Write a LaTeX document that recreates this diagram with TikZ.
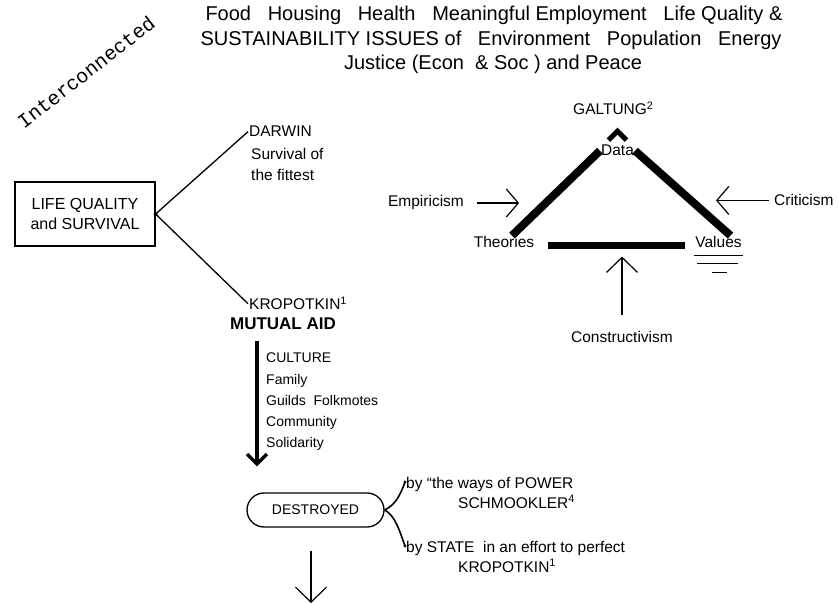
\documentclass[tikz,border=0pt]{standalone}
\usepackage{fontspec}
\setmainfont{Liberation Sans}
\newfontfamily\typewriter{Liberation Mono}
\usetikzlibrary{arrows.meta,positioning}

\begin{document}
\begin{tikzpicture}[x=1pt,y=-1pt,
        txt/.style={inner sep=1pt, font=\fontsize{15.5}{19}\selectfont},
        smalltxt/.style={inner sep=1pt, font=\fontsize{14}{21.25}\selectfont},
        headline/.style={inner sep=0pt, font=\fontsize{20}{24}\selectfont},
        link/.style={line width=1.3pt},
        leg/.style={line width=8pt},
        barb/.style={line width=1.2pt, -{Straight Barb[length=12pt,width=28pt]}},
        bigbarb/.style={line width=1.2pt, -{Straight Barb[length=15pt,width=31pt]}},
        thickarrow/.style={line width=3.3pt, -{Straight Barb[length=10pt,width=20pt]}}]
        \useasboundingbox (0,0) rectangle (839,604);

        % Issues heading
        \node[headline, anchor=base] (issues1) at (494,21) {Food\ \ \ Housing\ \ \ Health\ \ \ Meaningful Employment\ \ \ Life Quality \&};
        \node[headline, anchor=base] (issues2) at (491,46) {SUSTAINABILITY ISSUES of\ \ \ Environment\ \ \ Population\ \ \ Energy};
        \node[headline, anchor=base] (issues3) at (493,70) {Justice (Econ\ \ \& Soc\ ) and Peace};
        \node[rotate=38, font=\typewriter\fontsize{20}{20}\selectfont] (inter) at (86,72) {Interconnected};

        % Darwin or Kropotkin
        \node[draw, line width=1.2pt, minimum width=140, minimum height=64, align=center,
              font=\fontsize{16}{20}\selectfont] (life) at (85,214) {LIFE QUALITY\\and SURVIVAL};
        \node[txt, anchor=base west] (darwin) at (248,137) {DARWIN};
        \node[txt, anchor=base west] (survival) at (250,160) {Survival of};
        \node[txt, anchor=base west] (fittest) at (250,181) {the fittest};
        \node[txt, anchor=base west] (kropotkin) at (248,310) {KROPOTKIN\textsuperscript{1}};
        \node[anchor=base, font=\bfseries\fontsize{17}{20}\selectfont] (mutual) at (283,330) {MUTUAL AID};
        \fill (life.east) circle (2);
        \draw[link] (life.east) -- (darwin.west);
        \draw[link] (life.east) -- (kropotkin.west);

        \node[smalltxt, anchor=north west, align=left] (culture) at (265,352) {CULTURE\\Family\\Guilds\ \ Folkmotes\\Community\\Solidarity};
        \node[draw, link, rounded corners=17, minimum width=137, minimum height=34,
              font=\fontsize{14}{16}\selectfont] (destroyed) at (315.5,510) {DESTROYED};
        \coordinate (cultTop) at (257,338);
        \draw[thickarrow, shorten <=7] (mutual.south -| cultTop) -- (cultTop |- destroyed.north)
            [shorten >=26];

        % ways of destruction
        \node[txt, anchor=base west] (power) at (405,488) {by “the ways of POWER};
        \node[txt, anchor=base west] (schmookler) at (457,508) {SCHMOOKLER\textsuperscript{4}};
        \node[txt, anchor=base west] (state) at (405,552) {by STATE\ \ in an effort to perfect};
        \node[txt, anchor=base west] (kropotkin2) at (457,572) {KROPOTKIN\textsuperscript{1}};
        \draw[line width=1.6pt] (destroyed.east) .. controls (395,505) and (400,496) .. ([yshift=2]power.west);
        \draw[line width=1.6pt] (destroyed.east) .. controls (395,515) and (400,532) .. ([yshift=2]state.west);
        \fill ([yshift=2]power.west) circle (1.6);
        \fill ([yshift=2]state.west) circle (1.6);
        \coordinate (exit) at (311,603);
        \draw[bigbarb, shorten <=23] ([xshift=-4.5]destroyed.south) -- (exit);

        % Galtung triangle
        \node[txt, anchor=base west] (galtung) at (572,115) {GALTUNG\textsuperscript{2}};
        \node[txt, anchor=base] (data) at (617.5,156) {Data};
        \node[txt, anchor=base] (theories) at (504,248) {Theories};
        \node[txt, anchor=base] (values) at (718.5,248) {Values};
        \draw[line width=5pt] ([xshift=-9,yshift=4]data.north) -- ([yshift=13]data.north)
            -- ([xshift=9,yshift=4]data.north);
        \draw[leg] ([xshift=8]theories.north) -- (data.west);
        \draw[leg] (data.east) -- ([xshift=12]values.north);
        \draw[line width=7pt] ([xshift=13,yshift=-3]theories.east) -- ([xshift=-9,yshift=-3]values.west);
        \draw[line width=1.6pt] ([yshift=-6]values.south west) -- ([yshift=-6]values.south east);
        \draw[line width=1.6pt] ([xshift=3,yshift=-14]values.south west) -- ([xshift=-5,yshift=-14]values.south east);
        \draw[line width=1.6pt] ([xshift=-7,yshift=-23]values.south) -- ([xshift=8,yshift=-23]values.south);

        \node[txt, anchor=base] (empiricism) at (426,207) {Empiricism};
        \node[txt, anchor=base west] (criticism) at (773,206) {Criticism};
        \node[txt, anchor=base] (constructivism) at (622,343) {Constructivism};
        \draw[barb] ([xshift=12]empiricism.east) -- ([xshift=54]empiricism.east);
        \draw[barb] ([xshift=-4]criticism.west) -- ([xshift=-57]criticism.west);
        \draw[bigbarb] ([yshift=16]constructivism.north) -- ([yshift=74]constructivism.north);
    \end{tikzpicture}
\end{document}
